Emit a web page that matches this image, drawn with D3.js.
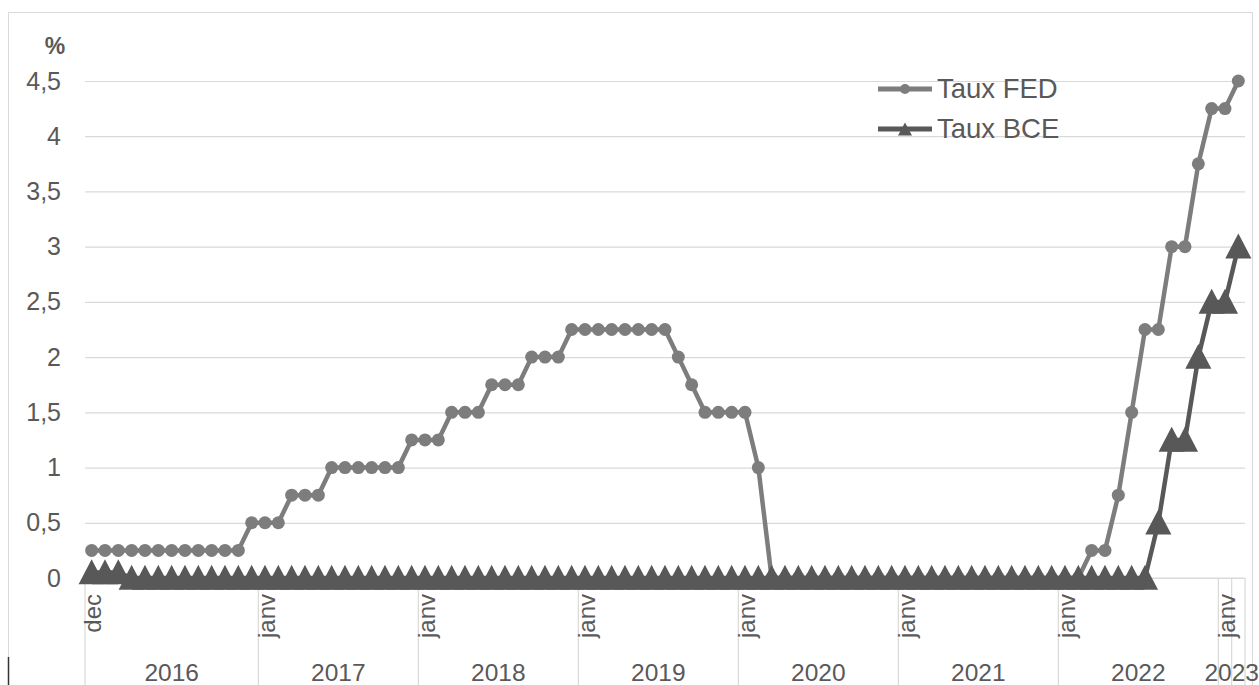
<!DOCTYPE html>
<html>
<head>
<meta charset="utf-8">
<script src="https://cdn.jsdelivr.net/npm/d3@7"></script>
<style>
  html, body { margin: 0; padding: 0; background: #fff; }
  svg { display: block; font-family: 'Liberation Sans', Arial, sans-serif; }
</style>
</head>
<body>
<div id="chart"></div>
<script>
// year groups of the category axis and how many months each holds
const yearLabels = ['2016', '2017', '2018', '2019', '2020', '2021', '2022', '2023']
const monthsPerYear = [13, 12, 12, 12, 12, 12, 12, 2]
const firstMonthLabels = ['dec', 'janv', 'janv', 'janv', 'janv', 'janv', 'janv', 'janv']

// monthly rates, dec 2015 -> feb 2023
const fedRates = [
  0.25, 0.25, 0.25, 0.25, 0.25, 0.25, 0.25, 0.25, 0.25, 0.25, 0.25, 0.25,
  0.5, 0.5, 0.5, 0.75, 0.75, 0.75, 1, 1, 1, 1, 1, 1,
  1.25, 1.25, 1.25, 1.5, 1.5, 1.5, 1.75, 1.75, 1.75, 2, 2, 2,
  2.25, 2.25, 2.25, 2.25, 2.25, 2.25, 2.25, 2.25, 2, 1.75, 1.5, 1.5,
  1.5, 1.5, 1, 0, 0, 0, 0, 0, 0, 0, 0, 0,
  0, 0, 0, 0, 0, 0, 0, 0, 0, 0, 0, 0,
  0, 0, 0, 0.25, 0.25, 0.75, 1.5, 2.25, 2.25, 3, 3, 3.75,
  4.25, 4.25, 4.5
]
const bceRates = [
  0.05, 0.05, 0.05, 0, 0, 0, 0, 0, 0, 0, 0, 0,
  0, 0, 0, 0, 0, 0, 0, 0, 0, 0, 0, 0,
  0, 0, 0, 0, 0, 0, 0, 0, 0, 0, 0, 0,
  0, 0, 0, 0, 0, 0, 0, 0, 0, 0, 0, 0,
  0, 0, 0, 0, 0, 0, 0, 0, 0, 0, 0, 0,
  0, 0, 0, 0, 0, 0, 0, 0, 0, 0, 0, 0,
  0, 0, 0, 0, 0, 0, 0, 0, 0.5, 1.25, 1.25, 2,
  2.5, 2.5, 3
]
const yTicks = [0, 0.5, 1, 1.5, 2, 2.5, 3, 3.5, 4, 4.5]
const seriesNames = ['Taux FED', 'Taux BCE']

const width = 1259
const height = 685
const plot = { left: 85, right: 1245, top: 81, bottom: 578 }
const fedColor = '#7d7d7d'
const bceColor = '#585858'
const gridColor = '#d9d9d9'
const textColor = '#595959'
const fmt = d => String(d).replace('.', ',')

const categories = d3.range(d3.sum(monthsPerYear))

const x = d3.scaleBand()
  .domain(categories)
  .range([plot.left, plot.right])
  .padding(0)

const y = d3.scaleLinear()
  .domain([0, 4.5])
  .range([plot.bottom, plot.top])

const cx = i => x(i) + x.bandwidth() / 2

function triangle(w, h) {
  return `M0,${-h / 2}L${w / 2},${h / 2}L${-w / 2},${h / 2}Z`
}

const svg = d3.select('#chart').append('svg')
  .attr('width', width)
  .attr('height', height)

// chart frame
svg.append('rect')
  .attr('x', 8.5).attr('y', 12.5)
  .attr('width', 1244).attr('height', 700)
  .attr('fill', '#fff')
  .attr('stroke', gridColor)
svg.append('line')
  .attr('x1', 8.5).attr('x2', 8.5)
  .attr('y1', 657).attr('y2', 685)
  .attr('stroke', '#333').attr('stroke-width', 1.5)

// horizontal grid + y labels
const yAxis = d3.axisLeft(y)
  .tickValues(yTicks)
  .tickSize(-(plot.right - plot.left))
  .tickPadding(24)
  .tickFormat(fmt)

svg.append('g')
  .attr('class', 'axis axis--y')
  .attr('transform', `translate(${plot.left},0)`)
  .call(yAxis)
  .call(g => g.select('.domain').remove())
  .call(g => g.selectAll('.tick line').attr('stroke', gridColor).attr('stroke-width', 1.2))
  .call(g => g.selectAll('.tick text')
    .attr('fill', textColor)
    .attr('font-size', 25)
    .attr('font-family', "'Liberation Sans', Arial, sans-serif"))

svg.append('text')
  .attr('x', 55).attr('y', 54)
  .attr('text-anchor', 'middle')
  .attr('font-size', 23)
  .attr('font-weight', 'bold')
  .attr('fill', textColor)
  .text('%')

// category axis: year groups
let start = 0
const groups = monthsPerYear.map((n, i) => {
  const g = { year: yearLabels[i], month: firstMonthLabels[i], first: start, last: start + n - 1 }
  start += n
  return g
})

const xAxisG = svg.append('g').attr('class', 'axis axis--x')

const boundaries = groups.map(g => x(g.first))
  .concat([x(categories[categories.length - 1]), plot.right])

xAxisG.selectAll('line.sep')
  .data(boundaries)
  .enter().append('line')
  .attr('class', 'sep')
  .attr('x1', d => d).attr('x2', d => d)
  .attr('y1', plot.bottom).attr('y2', height)
  .attr('stroke', gridColor)
  .attr('stroke-width', 1.2)

xAxisG.append('line')
  .attr('x1', plot.left).attr('x2', plot.right)
  .attr('y1', plot.bottom).attr('y2', plot.bottom)
  .attr('stroke', gridColor)
  .attr('stroke-width', 1.2)

xAxisG.selectAll('text.month')
  .data(groups)
  .enter().append('text')
  .attr('class', 'month')
  .attr('transform', d => `translate(${cx(d.first) + 1},594) rotate(-90)`)
  .attr('text-anchor', 'end')
  .attr('dominant-baseline', 'central')
  .attr('font-size', 24)
  .attr('fill', textColor)
  .text(d => d.month)

xAxisG.selectAll('text.year')
  .data(groups)
  .enter().append('text')
  .attr('class', 'year')
  .attr('x', d => (x(d.first) + x(d.last) + x.bandwidth()) / 2)
  .attr('y', 681)
  .attr('text-anchor', 'middle')
  .attr('font-size', 24.5)
  .attr('fill', textColor)
  .text(d => d.year)

// series
const line = d3.line()
  .x((d, i) => cx(i))
  .y(d => y(d))

const fed = svg.append('g').attr('class', 'fed')
fed.append('path')
  .datum(fedRates)
  .attr('d', line)
  .attr('fill', 'none')
  .attr('stroke', fedColor)
  .attr('stroke-width', 4.5)
  .attr('stroke-linejoin', 'round')
fed.selectAll('circle')
  .data(fedRates)
  .enter().append('circle')
  .attr('cx', (d, i) => cx(i))
  .attr('cy', d => y(d))
  .attr('r', 6.5)
  .attr('fill', fedColor)

const bce = svg.append('g').attr('class', 'bce')
bce.append('path')
  .datum(bceRates)
  .attr('d', line)
  .attr('fill', 'none')
  .attr('stroke', bceColor)
  .attr('stroke-width', 4.5)
  .attr('stroke-linejoin', 'round')
bce.selectAll('path.marker')
  .data(bceRates)
  .enter().append('path')
  .attr('class', 'marker')
  .attr('transform', (d, i) => `translate(${cx(i)},${y(d)})`)
  .attr('d', triangle(22, 21))
  .attr('fill', bceColor)
  .attr('stroke', bceColor)
  .attr('stroke-width', 2.5)
  .attr('stroke-linejoin', 'miter')

// legend
const legend = svg.append('g').attr('class', 'legend')
  .attr('transform', 'translate(878,0)')
const legendRows = legend.selectAll('g')
  .data(seriesNames)
  .enter().append('g')
  .attr('transform', (d, i) => `translate(0,${89 + i * 40})`)

legendRows.append('line')
  .attr('x1', 0).attr('x2', 54)
  .attr('stroke', (d, i) => i ? bceColor : fedColor)
  .attr('stroke-width', 5)

legendRows.filter((d, i) => i === 0).append('circle')
  .attr('cx', 27).attr('r', 5)
  .attr('fill', fedColor)
legendRows.filter((d, i) => i === 1).append('path')
  .attr('transform', 'translate(27,0)')
  .attr('d', triangle(14, 13))
  .attr('fill', bceColor)

legendRows.append('text')
  .attr('x', 59)
  .attr('y', 9)
  .attr('font-size', 27.5)
  .attr('fill', textColor)
  .text(d => d)
</script>
</body>
</html>
